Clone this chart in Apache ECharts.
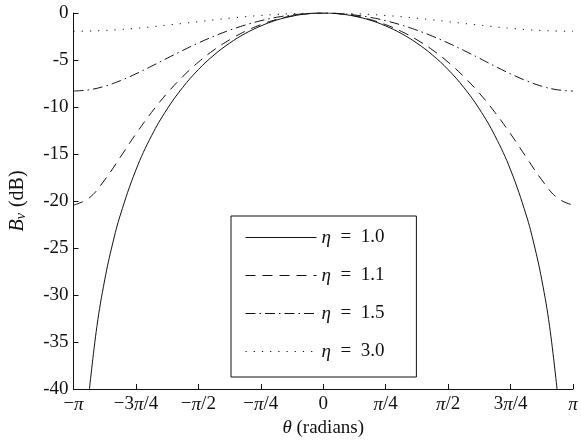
<!DOCTYPE html>
<html>
<head>
<meta charset="utf-8">
<script src="https://cdn.jsdelivr.net/npm/echarts@6/dist/echarts.min.js"></script>
<style>
  html, body { margin: 0; padding: 0; background: #fff; }
  #chart { width: 581px; height: 444px; }
</style>
</head>
<body>
<div id="chart"></div>
<script>
    'use strict';

    // theta sample points (radians), k * pi / 16 for k = -16 .. 16
    var theta = [
        -3.1416, -2.9452, -2.7489, -2.5525, -2.3562, -2.1598, -1.9635, -1.7671,
        -1.5708, -1.3744, -1.1781, -0.9817, -0.7854, -0.5890, -0.3927, -0.1963,
        0,
        0.1963, 0.3927, 0.5890, 0.7854, 0.9817, 1.1781, 1.3744, 1.5708,
        1.7671, 1.9635, 2.1598, 2.3562, 2.5525, 2.7489, 2.9452, 3.1416
    ];

    // the eta = 1.0 curve falls steeply near the ends, so it is read at a few more points
    var theta10 = [
        -2.9452, -2.8471, -2.7489, -2.6507, -2.5525, -2.3562, -2.1598, -1.9635, -1.7671,
        -1.5708, -1.3744, -1.1781, -0.9817, -0.7854, -0.5890, -0.3927, -0.1963,
        0,
        0.1963, 0.3927, 0.5890, 0.7854, 0.9817, 1.1781, 1.3744, 1.5708,
        1.7671, 1.9635, 2.1598, 2.3562, 2.5525, 2.6507, 2.7489, 2.8471, 2.9452
    ];

    // B_v (dB)
    var eta10 = [
        -40.35, -33.34, -28.39, -24.58, -21.49, -16.69, -13.06, -10.21, -7.91,
        -6.02, -4.47, -3.21, -2.18, -1.38, -0.76, -0.34, -0.08,
        0,
        -0.08, -0.34, -0.76, -1.38, -2.18, -3.21, -4.47, -6.02,
        -7.91, -10.21, -13.06, -16.69, -21.49, -24.58, -28.39, -33.34, -40.35
    ];
    var eta11 = [
        -20.44, -19.68, -17.76, -15.33, -12.86, -10.57, -8.53, -6.76,
        -5.23, -3.93, -2.85, -1.95, -1.24, -0.69, -0.30, -0.08,
        0,
        -0.08, -0.30, -0.69, -1.24, -1.95, -2.85, -3.93, -5.23,
        -6.76, -8.53, -10.57, -12.86, -15.33, -17.76, -19.68, -20.44
    ];
    var eta15 = [
        -8.30, -8.17, -7.79, -7.20, -6.47, -5.66, -4.81, -3.98,
        -3.19, -2.47, -1.83, -1.28, -0.82, -0.46, -0.21, -0.05,
        0,
        -0.05, -0.21, -0.46, -0.82, -1.28, -1.83, -2.47, -3.19,
        -3.98, -4.81, -5.66, -6.47, -7.20, -7.79, -8.17, -8.30
    ];
    var eta30 = [
        -1.94, -1.92, -1.86, -1.76, -1.63, -1.47, -1.29, -1.11,
        -0.92, -0.73, -0.55, -0.39, -0.26, -0.15, -0.07, -0.02,
        0,
        -0.02, -0.07, -0.15, -0.26, -0.39, -0.55, -0.73, -0.92,
        -1.11, -1.29, -1.47, -1.63, -1.76, -1.86, -1.92, -1.94
    ];

    var seriesNames = ['η = 1.0', 'η = 1.1', 'η = 1.5', 'η = 3.0'];
    var xTickLabels = ['−π', '−3π/4', '−π/2', '−π/4', '0', 'π/4', 'π/2', '3π/4', 'π'];

    var FONT = '"Liberation Serif", "DejaVu Serif", serif';
    var FS = 19;
    var INK = '#111';

    function pairs(xs, ys) {
        return xs.map(function (t, i) {
            return [t, ys[i]];
        });
    }

    function curve(name, xs, ys, dash) {
        return {
            name: name,
            type: 'line',
            data: pairs(xs, ys),
            showSymbol: false,
            symbol: 'none',
            smooth: 0.4,
            clip: true,
            silent: true,
            itemStyle: { color: INK },
            lineStyle: { color: INK, width: 1, type: dash }
        };
    }

    var rich = {
        i: { fontFamily: FONT, fontStyle: 'italic', fontSize: FS, color: INK }
    };

    var chart = echarts.init(document.getElementById('chart'), null, { renderer: 'canvas' });

    chart.setOption({
        animation: false,
        backgroundColor: '#fff',
        grid: { left: 72, right: 8, top: 13, bottom: 55 },
        legend: {
            data: seriesNames,
            orient: 'vertical',
            left: 231,
            top: 216,
            itemWidth: 71,
            itemHeight: 14,
            itemGap: 19,
            padding: [12, 32, 16, 14],
            borderColor: INK,
            borderWidth: 1,
            selectedMode: false,
            itemStyle: { opacity: 0, borderWidth: 0 },
            lineStyle: { width: 1 },
            formatter: function (name) {
                return '{i|η}\u2002=\u2002' + name.split('= ')[1];
            },
            textStyle: { fontFamily: FONT, fontSize: FS, color: INK, rich: rich }
        },
        xAxis: {
            type: 'value',
            min: -Math.PI,
            max: Math.PI,
            interval: Math.PI / 4,
            name: '{i|θ} (radians)',
            nameLocation: 'middle',
            nameGap: 27,
            nameTextStyle: { fontFamily: FONT, fontSize: FS, color: INK, rich: rich },
            axisLine: { show: true, onZero: false, lineStyle: { color: INK, width: 1 } },
            axisTick: { show: true, inside: true, length: 5, lineStyle: { color: INK } },
            splitLine: { show: false },
            axisLabel: {
                margin: 6,
                fontFamily: FONT,
                fontSize: FS,
                color: INK,
                rich: rich,
                formatter: function (v) {
                    var idx = Math.round(v / (Math.PI / 4)) + 4;
                    var s = xTickLabels[idx] || '';
                    return s.replace('π', '{i|π}');
                }
            }
        },
        yAxis: {
            type: 'value',
            min: -40,
            max: 0,
            interval: 5,
            name: '{b|B}{s|v} (dB)',
            nameLocation: 'middle',
            nameGap: 45,
            nameRotate: 90,
            nameTextStyle: {
                fontFamily: FONT,
                fontSize: 20,
                color: INK,
                rich: {
                    b: { fontFamily: FONT, fontStyle: 'italic', fontSize: 20, color: INK },
                    s: { fontFamily: FONT, fontStyle: 'italic', fontSize: 14, color: INK, verticalAlign: 'bottom', padding: [7, 1, 0, 0] }
                }
            },
            axisLine: { show: true, onZero: false, lineStyle: { color: INK, width: 1 } },
            axisTick: { show: true, inside: true, length: 5, lineStyle: { color: INK } },
            splitLine: { show: false },
            axisLabel: { margin: 5, fontFamily: FONT, fontSize: FS, color: INK }
        },
        series: [
            curve(seriesNames[0], theta10, eta10, 'solid'),
            curve(seriesNames[1], theta, eta11, [10, 7]),
            curve(seriesNames[2], theta, eta15, [10, 4, 1.5, 4]),
            curve(seriesNames[3], theta, eta30, [1.2, 7])
        ]
    });

    window.addEventListener('resize', function () {
        chart.resize();
    });
</script>
</body>
</html>
